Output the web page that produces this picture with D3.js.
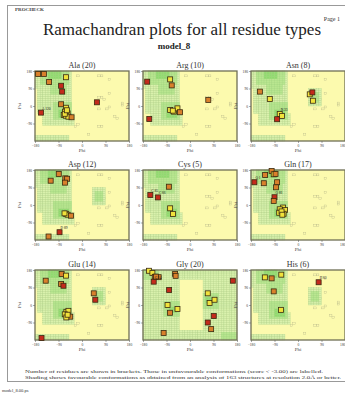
<!DOCTYPE html>
<html>
<head>
<meta charset="utf-8">
<script src="https://cdn.jsdelivr.net/npm/d3@7"></script>
<style>
body { margin: 0; background: #fff; }
svg { display: block; }
</style>
</head>
<body>
<div id="chart"></div>
<script>
var residues = ["Ala", "Arg", "Asn", "Asp", "Cys", "Gln", "Glu", "Gly", "His"];
var counts = [20, 10, 8, 12, 5, 17, 14, 20, 6];
var xTicks = [-180, -90, 0, 90, 180];
var yTicks = [-90, 0, 90, 180];

// points: [phi, psi, class (0 good, 1 poor, 2 unfavourable), label]
var alaPts = [[-168, 165, 1], [-146, 165, 1], [-126, 123, 1], [-61, 148, 0], [-80, 104, 2], [-76, 74, 2],
	[-80, 9, 1], [-61, -9, 0], [-65, -29, 0], [-55, -38, 0], [-70, -46, 0], [-62, -50, 0], [-52, -55, 0],
	[-40, -58, 1], [-157, -34, 2, "A 120"], [57, 19, 2], [-66, -40, 0], [-58, -22, 0]];
var argPts = [[-164, 125, 2], [-156, -67, 2], [-76, 137, 0], [-70, 106, 1], [-76, -21, 0], [-61, -29, 0],
	[-48, -12, 0], [-38, -32, 1], [70, 31, 1], [-66, -24, 0]];
var asnPts = [[-146, 74, 1], [-108, 36, 0], [-70, -41, 0, "N 33"], [-61, -51, 0], [-80, -68, 2], [45, 60, 0],
	[55, 70, 2], [57, 27, 0]];
var aspPts = [[-89, 159, 1], [-120, 125, 1], [-64, 137, 1], [-57, 135, 1], [-65, 115, 1], [-61, -45, 0],
	[-55, -50, 0], [-42, -55, 1], [-86, -140, 2, "D 89"], [-128, -162, 1], [-67, -43, 0]];
var cysPts = [[-81, 94, 1], [-152, 51, 2, "C 85"], [-123, 39, 2, "C 66"], [-76, -17, 0], [-65, -46, 0]];
var glnPts = [[-101, 175, 1], [-126, 154, 1], [-93, 158, 0], [-86, 160, 1], [-167, 117, 2, "Q 1"],
	[-131, 112, 1], [-80, 117, 1], [-84, 91, 1], [-90, 40, 2, "Q 81"], [-93, 21, 1], [-57, -13, 0],
	[-70, -22, 0], [-50, -26, 0], [-55, -45, 0], [-72, -40, 0], [-63, -33, 0], [-60, -50, 0]];
var gluPts = [[-78, 159, 1], [-61, 151, 0], [-139, 125, 1], [-80, 108, 1], [-71, 99, 2], [45, 60, 1],
	[51, 27, 2], [-60, -35, 0], [-52, -30, 0], [-66, -48, 0], [-45, -60, 1], [-60, -64, 0],
	[-155, -170, 2], [-55, -50, 0]];
var glyPts = [[-157, 176, 0], [-144, 165, 0], [-135, 145, 1], [-120, 143, 1], [-139, 120, 2, "G 54"],
	[-57, 160, 1], [-55, 150, 1], [-80, 77, 2], [-86, 0, 0], [-77, -40, 1], [-48, -21, 0], [-101, -144, 1],
	[68, 60, 0], [75, 10, 0], [94, 27, 0], [91, -57, 2], [68, -90, 2], [81, -124, 1], [164, 125, 2],
	[-130, 146, 1]];
var hisPts = [[-127, 142, 0], [-101, 137, 1], [-64, 156, 0], [-93, 70, 1], [-65, -25, 0], [79, 117, 2, "H 62"]];

// shaded regions: [phi0, phi1, psi0, psi1, level]
var shadeGeneral = [[-180, -40, 90, 180, 1], [-170, -40, -40, 90, 1], [-150, -30, -100, -40, 1],
	[-180, -50, -180, -150, 1], [-160, -50, 110, 180, 2], [-120, -60, 60, 110, 2], [-110, -40, -70, 20, 2],
	[-130, -80, 140, 180, 3], [-90, -50, -60, -20, 3]];
var shadeLeftHanded = [[40, 90, 0, 90, 1], [50, 80, 20, 70, 2]];
var shadeGly = [[-180, -40, -180, 180, 1], [50, 180, -180, 180, 1], [-40, 50, 130, 180, 1],
	[-40, 50, -180, -130, 1], [-180, -120, 130, 180, 2], [-100, -40, -60, 20, 2], [50, 110, -20, 60, 2],
	[120, 180, -180, -140, 2], [-80, -50, -40, -10, 3], [60, 90, 10, 40, 3]];
var sparseCells = [[60, 150], [70, 150], [100, 130], [-20, 150], [60, 40], [70, 40], [80, 30], [60, -20],
	[90, -20], [100, -10], [150, 10], [150, 0], [-20, -100], [-30, -110], [60, -110], [70, -110],
	[120, -60], [130, -70], [20, -150], [100, 60]];

var pointSets = [alaPts, argPts, asnPts, aspPts, cysPts, glnPts, gluPts, glyPts, hisPts];

var colX = [35, 143, 251],
	rowY = [71, 170, 270],
	pw = 94,
	ph = 70;

var svg = d3.select("#chart")
	.append("svg")
	.attr("width", 345)
	.attr("height", 396)
	.style("font-family", "'Liberation Serif', 'DejaVu Serif', serif");

// page frame
svg.append("rect")
	.attr("x", 7.5).attr("y", 5.5)
	.attr("width", 360).attr("height", 376)
	.attr("fill", "none")
	.attr("stroke", "#999")
	.attr("stroke-width", 1);

svg.append("text").attr("x", 15).attr("y", 11).attr("font-size", 5).attr("font-weight", "bold").attr("fill", "#444").text("PROCHECK");
svg.append("text").attr("x", 340).attr("y", 21).attr("text-anchor", "end").attr("font-size", 6).attr("fill", "#333").text("Page 1");
svg.append("text").attr("x", 182).attr("y", 35).attr("text-anchor", "middle").attr("font-size", 17).attr("fill", "#222")
	.text("Ramachandran plots for all residue types");
svg.append("text").attr("x", 174).attr("y", 49).attr("text-anchor", "middle").attr("font-size", 9).attr("font-weight", "bold").attr("fill", "#222")
	.text("model_8");

var x = d3.scaleLinear().domain([-180, 180]).range([0, pw]);
var y = d3.scaleLinear().domain([-180, 180]).range([ph, 0]);
var levelFill = ["none", "#d9f1ad", "#b9e690", "#90da6e"];
var ptFill = ["#f1e23c", "#d9802c", "#c42a1c"];

residues.forEach(function (name, i) {
	var g = svg.append("g")
		.attr("transform", "translate(" + colX[i % 3] + "," + rowY[Math.floor(i / 3)] + ")");

	g.append("rect").attr("width", pw).attr("height", ph).attr("fill", "#fcfaae");

	var regions = name === "Gly" ? shadeGly : shadeGeneral;
	if (name === "Asn" || name === "Asp" || name === "His" || name === "Glu") {
		regions = regions.concat(shadeLeftHanded);
	}

	// sparse outline cells in the yellow area
	g.selectAll("rect.sparse")
		.data(name === "Gly" ? [] : sparseCells)
		.enter()
		.append("rect")
		.attr("x", function (d) { return x(d[0]); })
		.attr("y", function (d) { return y(d[1] + 10); })
		.attr("width", x(10) - x(0))
		.attr("height", y(0) - y(10))
		.attr("fill", "none")
		.attr("stroke", "#b9b98a")
		.attr("stroke-width", 0.35);

	[1, 2, 3].forEach(function (lv) {
		var cells = [];
		regions.filter(function (r) { return r[4] === lv; }).forEach(function (r) {
			d3.range(r[0], r[1], 10).forEach(function (p) {
				d3.range(r[2], r[3], 10).forEach(function (q) {
					cells.push([p, q]);
				});
			});
		});
		g.selectAll("rect.lv" + lv)
			.data(cells)
			.enter()
			.append("rect")
			.attr("class", "lv" + lv)
			.attr("x", function (d) { return x(d[0]); })
			.attr("y", function (d) { return y(d[1] + 10); })
			.attr("width", x(10) - x(0))
			.attr("height", y(0) - y(10))
			.attr("fill", levelFill[lv])
			.attr("stroke", lv === 1 ? "#aed08c" : "#a2d680")
			.attr("stroke-width", 0.3);
	});

	g.append("rect").attr("width", pw).attr("height", ph)
		.attr("fill", "none").attr("stroke", "#6f6f55").attr("stroke-width", 1.3);

	var ax = g.append("g").attr("transform", "translate(0," + ph + ")")
		.call(d3.axisBottom(x).tickValues(xTicks).tickSize(2).tickPadding(1));
	var ay = g.append("g")
		.call(d3.axisLeft(y).tickValues(yTicks).tickSize(2).tickPadding(1));
	[ax, ay].forEach(function (a) {
		a.select(".domain").remove();
		a.selectAll("line").attr("stroke", "#555").attr("stroke-width", 0.5);
		a.selectAll("text").attr("font-size", 3.6).attr("font-family", "'Liberation Serif', serif").attr("fill", "#333");
	});
	if (i % 3 === 2) {
		ax.selectAll("text").filter(function (d) { return d === 180; }).attr("text-anchor", "end");
	}

	g.append("text").attr("x", pw / 2).attr("y", -3).attr("text-anchor", "middle")
		.attr("font-size", 8).attr("fill", "#333").text(name + " (" + counts[i] + ")");
	g.append("text").attr("x", pw / 2).attr("y", ph + 11).attr("text-anchor", "middle")
		.attr("font-size", 5).attr("fill", "#444").text("Phi");
	g.append("text").attr("transform", "translate(-14," + (ph / 2) + ") rotate(-90)").attr("text-anchor", "middle")
		.attr("font-size", 5).attr("fill", "#444").text("Psi");

	var pts = pointSets[i];
	g.selectAll("rect.pt")
		.data(pts)
		.enter()
		.append("rect")
		.attr("class", "pt")
		.attr("x", function (d) { return x(d[0]) - 2.5; })
		.attr("y", function (d) { return y(d[1]) - 2.5; })
		.attr("width", 5)
		.attr("height", 5)
		.attr("fill", function (d) { return ptFill[d[2]]; })
		.attr("stroke", "#3a2a10")
		.attr("stroke-width", 0.8);

	g.selectAll("text.lab")
		.data(pts.filter(function (d) { return d[3]; }))
		.enter()
		.append("text")
		.attr("x", function (d) { return x(d[0]) + 1; })
		.attr("y", function (d) { return y(d[1]) - 3; })
		.attr("font-size", 3.5)
		.attr("fill", "#111")
		.text(function (d) { return d[3]; });
});

svg.append("text").attr("x", 25).attr("y", 373).attr("font-size", 4.3).attr("fill", "#333")
	.attr("textLength", 298).attr("lengthAdjust", "spacingAndGlyphs")
	.text("Number of residues are shown in brackets. Those in unfavourable conformations (score < -3.00) are labelled.");
svg.append("text").attr("x", 25).attr("y", 378.5).attr("font-size", 4.3).attr("fill", "#333")
	.attr("textLength", 316).attr("lengthAdjust", "spacingAndGlyphs")
	.text("Shading shows favourable conformations as obtained from an analysis of 163 structures at resolution 2.0Å or better.");
svg.append("text").attr("x", 2).attr("y", 392).attr("font-size", 4.5).attr("fill", "#333").text("model_8.00.ps");
</script>
</body>
</html>
